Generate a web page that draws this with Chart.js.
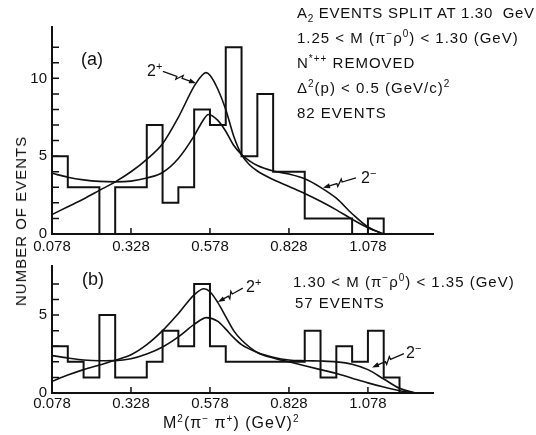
<!DOCTYPE html>
<html>
<head>
<meta charset="utf-8">
<script src="https://cdn.jsdelivr.net/npm/chart.js@4.4.0/dist/chart.umd.min.js"></script>
<style>
  body { margin: 0; background: #fff; }
  #wrap { position: relative; width: 536px; height: 435px; overflow: hidden;
          font-family: "Liberation Sans", Arial, sans-serif; color: #111; }
  canvas { position: absolute; left: 0; }
  .t { position: absolute; white-space: nowrap; font-size: 15px; line-height: 16px; letter-spacing: 1px; }
  .t sup, .t sub { font-size: 10px; line-height: 0; }
  .lbl { position: absolute; white-space: nowrap; font-size: 16px; line-height: 16px; }
  .lbl sup { font-size: 11px; line-height: 0; }
</style>
</head>
<body>
<div id="wrap">
  <canvas id="top" width="536" height="262" style="top:0"></canvas>
  <canvas id="bot" width="536" height="183" style="top:252px"></canvas>

  <div class="t" style="left:297px; top:5px; letter-spacing:0.7px">A<sub>2</sub> EVENTS SPLIT AT 1.30&nbsp; GeV</div>
  <div class="t" style="left:297px; top:30px">1.25 &lt; M (π<sup>−</sup>ρ<sup>0</sup>) &lt; 1.30 (GeV)</div>
  <div class="t" style="left:297px; top:55px">N<sup>*++</sup> REMOVED</div>
  <div class="t" style="left:297px; top:80px">Δ<sup>2</sup>(p) &lt; 0.5 (GeV/c)<sup>2</sup></div>
  <div class="t" style="left:297px; top:105px">82 EVENTS</div>

  <div class="t" style="left:293px; top:274px">1.30 &lt; M (π<sup>−</sup>ρ<sup>0</sup>) &lt; 1.35 (GeV)</div>
  <div class="t" style="left:295px; top:295px">57 EVENTS</div>

  <div class="lbl" style="left:81px; top:51px; font-size:18px">(a)</div>
  <div class="lbl" style="left:82px; top:271px; font-size:18px">(b)</div>

  <div class="lbl" style="left:147px; top:63px">2<sup>+</sup></div>
  <div class="lbl" style="left:361px; top:170px">2<sup>−</sup></div>
  <div class="lbl" style="left:246px; top:279px">2<sup>+</sup></div>
  <div class="lbl" style="left:406px; top:345px">2<sup>−</sup></div>

  <div class="t" style="left:163px; top:415px; font-size:16px">M<sup>2</sup>(π<sup>−</sup> π<sup>+</sup>) (GeV)<sup>2</sup></div>
  <div class="t" style="left:21px; top:221px; font-size:15px; transform:translate(-50%,-50%) rotate(-90deg)">NUMBER OF EVENTS</div>
</div>

<script>
// histogram bin edges, GeV^2
const binEdges = [0.078, 0.128, 0.178, 0.228, 0.278, 0.328, 0.378, 0.428, 0.478, 0.528, 0.578,
                  0.628, 0.678, 0.728, 0.778, 0.828, 0.878, 0.928, 0.978, 1.028, 1.078, 1.128, 1.178];

// (a) 1.25 < M < 1.30, 82 events
const countsA = [5, 3, 3, 0, 3, 3, 7, 2, 3, 8, 7, 12, 5, 9, 4, 4, 1, 1, 1, 0, 1];
// (b) 1.30 < M < 1.35, 57 events
const countsB = [3, 2, 1, 5, 1, 1, 2, 4, 3, 7, 3, 2, 2, 2, 2, 2, 4, 1, 3, 2, 4, 1];

// fitted curves, panel (a)
const xPlusA = [0.078, 0.128, 0.178, 0.228, 0.278, 0.328, 0.378, 0.428, 0.478, 0.528, 0.553, 0.565, 0.578,
                0.603, 0.628, 0.653, 0.678, 0.703, 0.728, 0.778, 0.828, 0.878, 0.928, 0.978, 1.028, 1.078, 1.128];
const yPlusA = [1.25, 1.75, 2.25, 2.8, 3.35, 4.0, 4.8, 5.8, 7.5, 9.5, 10.2, 10.37, 10.2,
                9.3, 8.0, 6.3, 5.1, 4.45, 4.05, 3.5, 3.05, 2.6, 2.1, 1.55, 0.95, 0.4, 0];
const xMinusA = [0.078, 0.128, 0.178, 0.228, 0.278, 0.328, 0.378, 0.428, 0.478, 0.528, 0.553, 0.573,
                 0.603, 0.628, 0.653, 0.678, 0.703, 0.728, 0.778, 0.828, 0.878, 0.928, 0.978, 1.028, 1.078, 1.128];
const yMinusA = [3.9, 3.65, 3.48, 3.38, 3.35, 3.4, 3.6, 3.95, 4.85, 6.3, 7.2, 7.68,
                 7.3, 6.6, 5.7, 5.1, 4.7, 4.4, 4.05, 3.85, 3.55, 3.0, 2.3, 1.3, 0.45, 0];

// fitted curves, panel (b)
const xPlusB = [0.078, 0.128, 0.178, 0.228, 0.278, 0.328, 0.378, 0.428, 0.478, 0.528, 0.559, 0.578, 0.603, 0.628,
                0.653, 0.678, 0.728, 0.778, 0.828, 0.878, 0.928, 0.978, 1.028, 1.078, 1.128, 1.178, 1.228];
const yPlusB = [0.75, 1.15, 1.5, 1.8, 2.1, 2.45, 3.1, 4.0, 5.1, 6.3, 6.69, 6.5, 5.8, 4.9,
                4.0, 3.4, 2.6, 2.25, 2.0, 1.75, 1.5, 1.25, 0.95, 0.65, 0.38, 0.15, 0];
const xMinusB = [0.078, 0.128, 0.178, 0.228, 0.278, 0.328, 0.378, 0.428, 0.478, 0.528, 0.567, 0.603, 0.628,
                 0.653, 0.678, 0.728, 0.778, 0.828, 0.878, 0.928, 0.978, 1.028, 1.078, 1.128, 1.178, 1.228];
const yMinusB = [2.4, 2.25, 2.12, 2.07, 2.08, 2.2, 2.5, 2.95, 3.6, 4.4, 4.84, 4.6, 4.1,
                 3.55, 3.1, 2.6, 2.3, 2.12, 2.07, 2.05, 2.0, 1.85, 1.5, 0.9, 0.3, 0];

const xTicks = [0.078, 0.328, 0.578, 0.828, 1.078];
const xTickLabels = ['0.078', '0.328', '0.578', '0.828', '1.078'];
const yTicksA = [0, 1, 2, 3, 4, 5, 6, 7, 8, 9, 10, 11, 12];
const yTicksB = [0, 1, 2, 3, 4, 5, 6, 7];
const yLabelled = [0, 5, 10];

const INK = '#111';
const FONT = { family: '"Liberation Sans", Arial, sans-serif', size: 15 };

function pts(xs, ys) {
  return xs.map(function (x, i) { return { x: x, y: ys[i] }; });
}

function histPts(counts) {
  var p = counts.map(function (c, i) { return { x: binEdges[i], y: c }; });
  p.push({ x: binEdges[counts.length], y: 0 });
  return p;
}

// tick marks drawn on the inside of the axes, like the original
const innerTicks = {
  id: 'innerTicks',
  afterDraw: function (chart) {
    var ctx = chart.ctx, a = chart.chartArea, x = chart.scales.x, y = chart.scales.y;
    ctx.save();
    ctx.strokeStyle = INK;
    ctx.lineWidth = 1.5;
    ctx.beginPath();
    x.ticks.forEach(function (t) {
      if (t.value <= x.min) return;
      var px = x.getPixelForValue(t.value);
      ctx.moveTo(px, a.bottom);
      ctx.lineTo(px, a.bottom - 6);
    });
    y.ticks.forEach(function (t) {
      if (t.value <= 0) return;
      var py = y.getPixelForValue(t.value);
      ctx.moveTo(a.left, py);
      ctx.lineTo(a.left + 7, py);
    });
    ctx.stroke();
    ctx.restore();
  }
};

// zig-zag arrows from the 2+ / 2- labels to the curves
const arrows = {
  id: 'arrows',
  afterDatasetsDraw: function (chart, args, opts) {
    var ctx = chart.ctx, x = chart.scales.x, y = chart.scales.y;
    ctx.save();
    ctx.strokeStyle = INK;
    ctx.fillStyle = INK;
    ctx.lineWidth = 1.3;
    (opts.list || []).forEach(function (ar) {
      var ax = x.getPixelForValue(ar.from[0]), ay = y.getPixelForValue(ar.from[1]);
      var bx = x.getPixelForValue(ar.to[0]), by = y.getPixelForValue(ar.to[1]);
      var dx = bx - ax, dy = by - ay, len = Math.sqrt(dx * dx + dy * dy);
      var ux = dx / len, uy = dy / len, nx = -uy, ny = ux;
      var m1x = ax + dx * 0.42, m1y = ay + dy * 0.42;
      var m2x = ax + dx * 0.58, m2y = ay + dy * 0.58;
      ctx.beginPath();
      ctx.moveTo(ax, ay);
      ctx.lineTo(m1x, m1y);
      ctx.lineTo(m1x + nx * 3, m1y + ny * 3);
      ctx.lineTo(m2x - nx * 3, m2y - ny * 3);
      ctx.lineTo(m2x, m2y);
      ctx.lineTo(bx - ux * 5, by - uy * 5);
      ctx.stroke();
      ctx.beginPath();
      ctx.moveTo(bx, by);
      ctx.lineTo(bx - ux * 7 + nx * 2.5, by - uy * 7 + ny * 2.5);
      ctx.lineTo(bx - ux * 7 - nx * 2.5, by - uy * 7 - ny * 2.5);
      ctx.closePath();
      ctx.fill();
    });
    ctx.restore();
  }
};

function makeChart(id, counts, plus, minus, yMax, yTicks, pad, xH, xPad, arrowList) {
  return new Chart(document.getElementById(id), {
    type: 'line',
    data: {
      datasets: [
        // 'before': horizontal at the bin value, then the step at the next edge
        { data: histPts(counts), stepped: 'before', borderColor: INK, borderWidth: 2,
          pointRadius: 0, fill: false },
        { data: plus, borderColor: INK, borderWidth: 1.6, pointRadius: 0,
          cubicInterpolationMode: 'monotone', fill: false },
        { data: minus, borderColor: INK, borderWidth: 1.6, pointRadius: 0,
          cubicInterpolationMode: 'monotone', fill: false }
      ]
    },
    options: {
      responsive: false,
      animation: false,
      events: [],
      layout: { padding: pad },
      plugins: { legend: { display: false }, tooltip: { enabled: false }, arrows: { list: arrowList } },
      scales: {
        x: {
          type: 'linear', min: 0.078, max: 1.284,
          grid: { display: false, drawTicks: false },
          border: { display: true, color: INK, width: 2 },
          afterBuildTicks: function (s) { s.ticks = xTicks.map(function (v) { return { value: v }; }); },
          afterFit: function (s) { s.height = xH; },
          ticks: { color: INK, font: FONT, padding: xPad, maxRotation: 0, autoSkip: false,
                   callback: function (v, i) { return xTickLabels[i]; } }
        },
        y: {
          min: 0, max: yMax,
          grid: { display: false, drawTicks: false },
          border: { display: true, color: INK, width: 2 },
          afterBuildTicks: function (s) { s.ticks = yTicks.map(function (v) { return { value: v }; }); },
          afterFit: function (s) { s.width = 52; },
          ticks: { color: INK, font: FONT, padding: 5, autoSkip: false,
                   callback: function (v) { return yLabelled.indexOf(v) >= 0 ? String(v) : ''; } }
        }
      }
    },
    plugins: [innerTicks, arrows]
  });
}

makeChart('top', countsA, pts(xPlusA, yPlusA), pts(xMinusA, yMinusA), 13.3, yTicksA,
  { left: 0, right: 103, top: 27, bottom: 0 }, 28, 4,
  [ { from: [0.429, 10.45], to: [0.534, 9.68] },
    { from: [1.040, 3.61], to: [0.936, 2.97] } ]);

makeChart('bot', countsB, pts(xPlusB, yPlusB), pts(xMinusB, yMinusB), 8.15, yTicksB,
  { left: 0, right: 103, top: 13, bottom: 0 }, 42, 2,
  [ { from: [0.682, 6.73], to: [0.603, 5.84] },
    { from: [1.192, 2.53], to: [1.091, 1.64] } ]);
</script>
</body>
</html>
